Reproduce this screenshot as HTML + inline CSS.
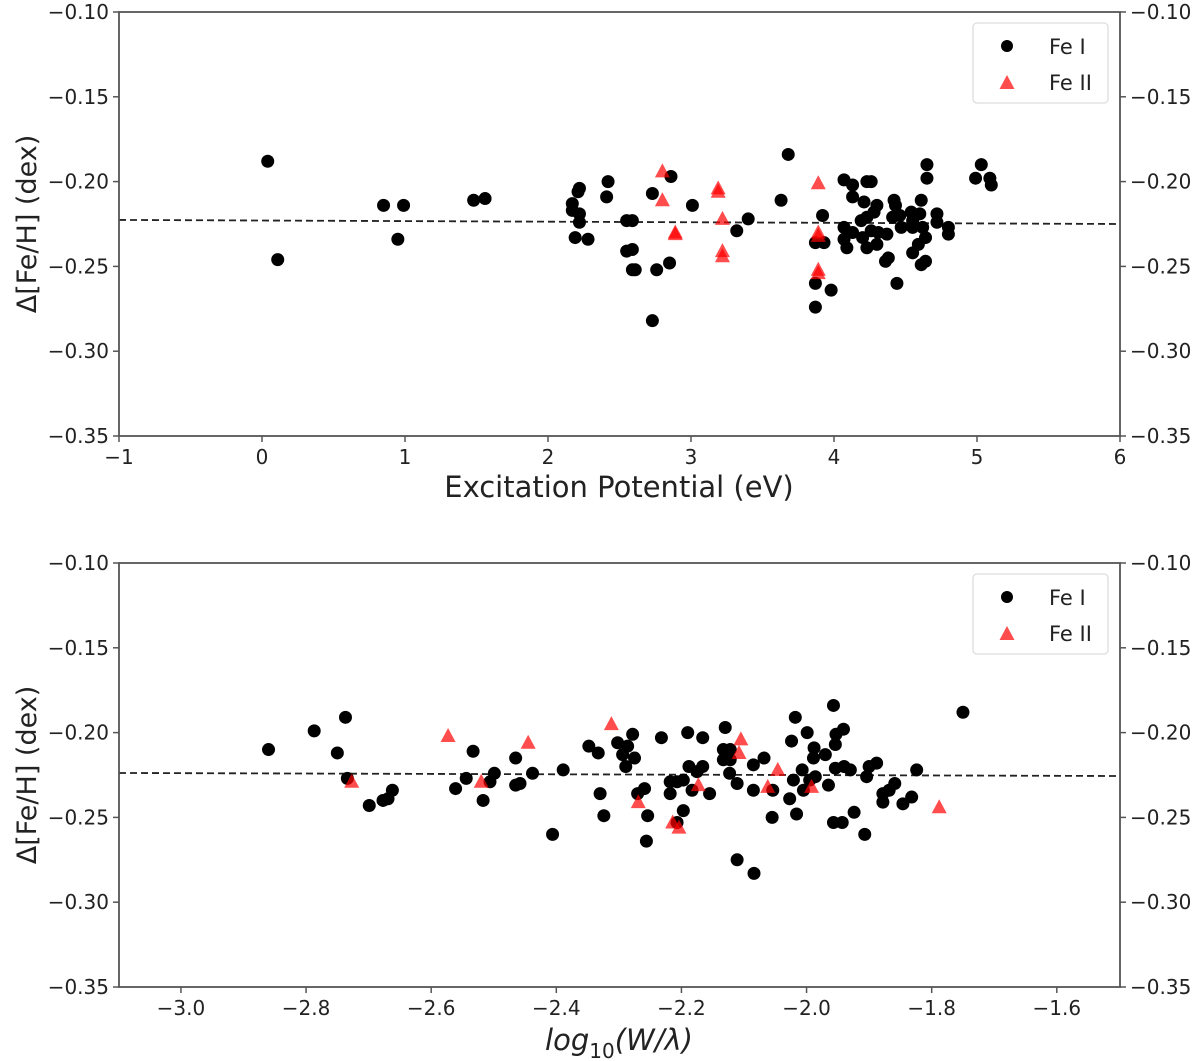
<!DOCTYPE html>
<html><head><meta charset="utf-8"><style>
body{margin:0;background:#fff;}
svg{display:block;font-family:"DejaVu Sans","Liberation Sans",sans-serif;}
</style></head><body>
<svg id="chart" width="1200" height="1061" viewBox="0 0 1200 1061" xmlns="http://www.w3.org/2000/svg"></svg>
<script>
// ---- Top panel data (Excitation Potential) ----
const topFe1X = [0.04,0.11,0.85,0.99,0.95,1.48,1.56,2.22,2.21,2.17,2.17,2.22,2.22,2.19,2.28,2.42,2.41,2.55,2.59,2.55,2.59,2.59,2.61,2.76,2.85,2.73,2.73,2.86,3.01,3.40,3.32,3.63,3.68,3.92,3.87,3.93,3.87,3.98,3.87,
4.07,4.13,4.23,4.26,4.13,4.21,4.30,4.28,4.19,4.23,4.07,4.13,4.20,4.26,4.31,4.37,4.07,4.09,4.23,4.30,4.36,4.38,4.44,4.42,4.43,4.41,4.46,4.47,4.54,4.55,4.60,4.61,4.55,4.62,4.64,4.59,4.55,4.61,4.64,4.65,4.65,4.72,4.72,4.80,4.80,5.03,4.99,5.09,5.10];
const topFe1Y = [-0.188,-0.246,-0.214,-0.214,-0.234,-0.211,-0.210,-0.204,-0.206,-0.213,-0.217,-0.219,-0.224,-0.233,-0.234,-0.200,-0.209,-0.223,-0.223,-0.241,-0.240,-0.252,-0.252,-0.252,-0.248,-0.282,-0.207,-0.197,-0.214,-0.222,-0.229,-0.211,-0.184,-0.220,-0.236,-0.236,-0.260,-0.264,-0.274,
-0.199,-0.202,-0.200,-0.200,-0.209,-0.212,-0.214,-0.218,-0.223,-0.221,-0.227,-0.230,-0.233,-0.229,-0.230,-0.231,-0.234,-0.239,-0.239,-0.237,-0.247,-0.245,-0.260,-0.211,-0.214,-0.221,-0.220,-0.227,-0.218,-0.223,-0.219,-0.211,-0.227,-0.227,-0.233,-0.237,-0.242,-0.249,-0.247,-0.190,-0.198,-0.219,-0.224,-0.227,-0.231,-0.190,-0.198,-0.198,-0.202];
const topFe2X = [2.80,2.80,2.89,2.89,3.19,3.19,3.22,3.22,3.22,3.89,3.89,3.89,3.89,3.89];
const topFe2Y = [-0.194,-0.211,-0.230,-0.231,-0.204,-0.206,-0.222,-0.241,-0.244,-0.201,-0.230,-0.232,-0.252,-0.254];
const topFit = [-0.2226,-0.2250];
const topXTicks = [-1,0,1,2,3,4,5,6];
const topXTickLabels = ["\u22121","0","1","2","3","4","5","6"];

// ---- Bottom panel data (log10 W/lambda) ----
const botFe1X = [-2.86,-2.787,-2.750,-2.737,-2.734,-2.699,-2.677,-2.669,-2.662,-2.561,-2.544,-2.533,-2.517,-2.506,-2.499,-2.465,-2.465,-2.458,-2.438,-2.389,-2.406,-2.348,-2.333,-2.330,-2.324,-2.302,-2.286,-2.278,-2.294,-2.275,-2.289,-2.270,-2.259,-2.254,-2.256,-2.232,-2.218,-2.207,-2.197,-2.218,-2.197,-2.207,-2.190,-2.166,-2.188,-2.166,-2.175,-2.183,-2.155,-2.130,-2.133,-2.122,-2.133,-2.122,-2.123,-2.111,-2.111,-2.084,-2.085,-2.068,-2.085,-2.054,-2.055,-2.027,-2.016,-2.021,-2.007,-2.005,-2.024,-2.018,-1.999,-1.988,-1.989,-1.970,-1.986,-1.995,-1.965,-1.954,-1.953,-1.941,-1.957,-1.954,-1.940,-1.930,-1.957,-1.943,-1.924,-1.907,-1.900,-1.888,-1.904,-1.878,-1.878,-1.868,-1.859,-1.846,-1.832,-1.824,-1.750];
const botFe1Y = [-0.210,-0.199,-0.212,-0.191,-0.227,-0.243,-0.240,-0.239,-0.234,-0.233,-0.227,-0.211,-0.240,-0.229,-0.224,-0.231,-0.215,-0.230,-0.224,-0.222,-0.260,-0.208,-0.212,-0.236,-0.249,-0.206,-0.208,-0.201,-0.213,-0.215,-0.220,-0.236,-0.233,-0.249,-0.264,-0.203,-0.229,-0.229,-0.228,-0.236,-0.246,-0.253,-0.200,-0.203,-0.220,-0.220,-0.223,-0.234,-0.236,-0.197,-0.210,-0.210,-0.216,-0.216,-0.224,-0.230,-0.275,-0.283,-0.219,-0.215,-0.234,-0.234,-0.250,-0.239,-0.248,-0.228,-0.222,-0.234,-0.205,-0.191,-0.200,-0.209,-0.215,-0.213,-0.226,-0.228,-0.231,-0.207,-0.201,-0.198,-0.184,-0.221,-0.220,-0.222,-0.253,-0.253,-0.247,-0.260,-0.220,-0.218,-0.226,-0.236,-0.241,-0.234,-0.230,-0.242,-0.238,-0.222,-0.188];
const botFe2X = [-2.727,-2.573,-2.520,-2.445,-2.312,-2.269,-2.214,-2.204,-2.173,-2.105,-2.108,-2.062,-2.046,-1.992,-1.788];
const botFe2Y = [-0.229,-0.202,-0.229,-0.206,-0.195,-0.241,-0.253,-0.256,-0.231,-0.204,-0.212,-0.232,-0.222,-0.232,-0.244];
const botFit = [-0.2238,-0.2256];
const botXTicks = [-3.0,-2.8,-2.6,-2.4,-2.2,-2.0,-1.8,-1.6];
const botXTickLabels = ["\u22123.0","\u22122.8","\u22122.6","\u22122.4","\u22122.2","\u22122.0","\u22121.8","\u22121.6"];

const yTicks = [-0.10,-0.15,-0.20,-0.25,-0.30,-0.35];
const yTickLabels = ["\u22120.10","\u22120.15","\u22120.20","\u22120.25","\u22120.30","\u22120.35"];

const NS = "http://www.w3.org/2000/svg";
const svg = document.getElementById('chart');
function mk(tag, attrs, parent){const e=document.createElementNS(NS,tag);for(const k in attrs)e.setAttribute(k,attrs[k]);(parent||svg).appendChild(e);return e;}

function panel(cfg){
  const L=119,R=1120,T=cfg.top,B=cfg.top+424;
  const sx=v=>L+(v-cfg.xmin)/(cfg.xmax-cfg.xmin)*(R-L);
  const sy=v=>T+(-0.10-v)/0.25*(B-T);
  const g=mk('g',{});
  
  
  const fl=mk('line',{x1:L,x2:R,y1:sy(cfg.fit[0]),y2:sy(cfg.fit[1]),stroke:'#222','stroke-width':1.8,'stroke-dasharray':'7,4'},g);
  
  
  for(let i=0;i<cfg.f1x.length;i++){
    const c=mk('circle',{cx:sx(cfg.f1x[i]),cy:sy(cfg.f1y[i]),r:6.5,fill:'#000'},g);
    
    
  }
  for(let i=0;i<cfg.f2x.length;i++){
    const x=sx(cfg.f2x[i]),y=sy(cfg.f2y[i]);
    const p=mk('polygon',{points:`${x},${y-8} ${x-7.5},${y+6} ${x+7.5},${y+6}`,fill:'#ff0000','fill-opacity':0.7},g);
    
    
  }
  const fr=mk('rect',{x:L,y:T,width:R-L,height:B-T,fill:'none',stroke:'#555','stroke-width':1.8},g);
  
  
  yTicks.forEach((v,i)=>{
    const y=sy(v);
    mk('line',{x1:L-6,x2:L,y1:y,y2:y,stroke:'#555','stroke-width':1.5},g);
    mk('line',{x1:R,x2:R+6,y1:y,y2:y,stroke:'#555','stroke-width':1.5},g);
    const t=mk('text',{x:L-10,y:y+7,'text-anchor':'end','font-size':20,fill:'#222'},g);
    t.textContent=yTickLabels[i];
    
    
    const t2=mk('text',{x:R+10,y:y+7,'text-anchor':'start','font-size':20,fill:'#222'},g);
    t2.textContent=yTickLabels[i];
    
    
  });
  cfg.xt.forEach((v,i)=>{
    const x=sx(v);
    mk('line',{x1:x,x2:x,y1:B,y2:B+6,stroke:'#555','stroke-width':1.5},g);
    const t=mk('text',{x:x,y:B+28,'text-anchor':'middle','font-size':20,fill:'#222'},g);
    t.textContent=cfg.xtl[i];
    
    
  });
  const yl=mk('text',{x:0,y:0,'text-anchor':'middle','font-size':27,fill:'#222',transform:`translate(36,${(T+B)/2}) rotate(-90)`},g);
  yl.textContent='\u0394[Fe/H] (dex)';
  
  
  const lg=mk('g',{},g);
  
  
  mk('rect',{x:973,y:T+11,width:135,height:80,rx:4,fill:'#fff',stroke:'#ddd','stroke-width':1.3},lg);
  mk('circle',{cx:1007,cy:T+34,r:6,fill:'#000'},lg);
  const x0=1007,y0=T+71;
  mk('polygon',{points:`${x0},${y0-8} ${x0-7.5},${y0+6} ${x0+7.5},${y0+6}`,fill:'#ff0000','fill-opacity':0.7},lg);
  const a=mk('text',{x:1049,y:T+42,'font-size':21,fill:'#222'},lg);a.textContent='Fe I';
  
  
  const b=mk('text',{x:1049,y:T+78,'font-size':21,fill:'#222'},lg);b.textContent='Fe II';
  
  
  return {sx,B};
}
panel({name:'excitation-panel',top:12,xmin:-1,xmax:6,f1x:topFe1X,f1y:topFe1Y,f2x:topFe2X,f2y:topFe2Y,fit:topFit,xt:topXTicks,xtl:topXTickLabels});
panel({name:'ew-panel',top:563,xmin:-3.099,xmax:-1.499,f1x:botFe1X,f1y:botFe1Y,f2x:botFe2X,f2y:botFe2Y,fit:botFit,xt:botXTicks,xtl:botXTickLabels});

const x1=mk('text',{x:619,y:497,'text-anchor':'middle','font-size':29,fill:'#222'});
x1.textContent='Excitation Potential (eV)';


const x2=mk('text',{x:619,y:1050,'text-anchor':'middle','font-size':29,fill:'#222','font-style':'italic'});
x2.innerHTML='log<tspan font-size="20" font-style="normal" dy="8">10</tspan><tspan dy="-8">(W/λ)</tspan>';


</script>
</body></html>
